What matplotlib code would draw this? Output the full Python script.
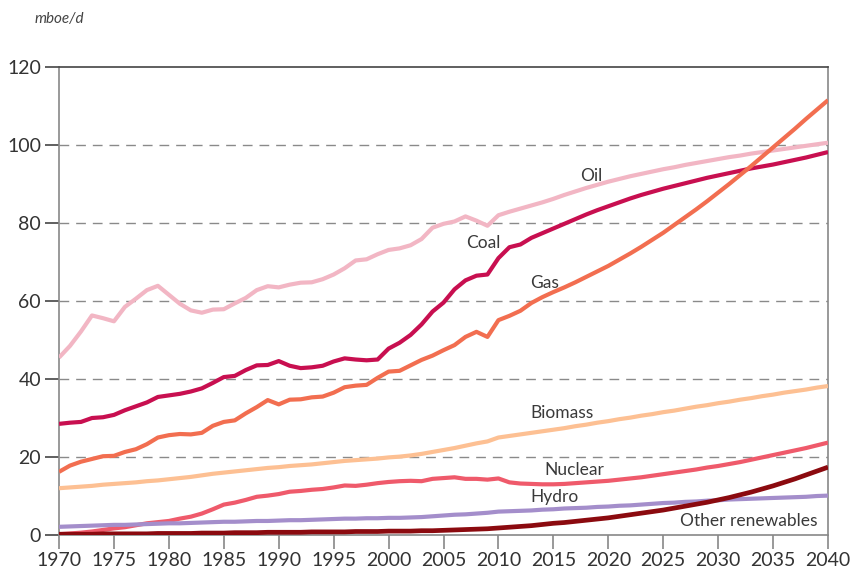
import matplotlib
matplotlib.use("Agg")
import matplotlib.pyplot as plt
import numpy as np

plt.rcParams['font.family'] = ['Lato', 'DejaVu Sans']

years = list(range(1970, 2041))

oil = [45.5, 48.5, 52.2, 56.3, 55.6, 54.8, 58.5, 60.6, 62.8, 63.9,
       61.6, 59.3, 57.6, 57.0, 57.8, 57.9, 59.4, 60.8, 62.8, 63.8,
       63.5, 64.2, 64.7, 64.8, 65.6, 66.8, 68.4, 70.4, 70.7, 72.0,
       73.1, 73.5, 74.3, 75.9, 78.8, 79.8, 80.4, 81.7, 80.6, 79.3,
       82.0, 82.9, 83.7, 84.5, 85.3, 86.2, 87.2, 88.1, 89.0, 89.8,
       90.6, 91.3, 92.0, 92.6, 93.2, 93.8, 94.3, 94.9, 95.4, 95.9,
       96.4, 96.9, 97.3, 97.8, 98.2, 98.6, 99.0, 99.4, 99.8, 100.2,
       100.6]

coal = [28.5, 28.8, 29.0, 30.0, 30.2, 30.8, 32.0, 33.0, 34.0, 35.4,
        35.8, 36.2, 36.8, 37.6, 39.0, 40.5, 40.8, 42.3, 43.5, 43.6,
        44.6, 43.4, 42.8, 43.0, 43.4, 44.5, 45.3, 45.0, 44.8, 45.0,
        47.8, 49.3, 51.3, 54.0, 57.3, 59.6, 63.0, 65.3, 66.5, 66.8,
        71.0, 73.8, 74.5, 76.2, 77.4, 78.6, 79.8, 81.0, 82.2, 83.3,
        84.3, 85.3, 86.3, 87.2, 88.0, 88.8, 89.5, 90.2, 90.9, 91.6,
        92.2, 92.8, 93.4, 94.0, 94.5, 95.0, 95.6, 96.2, 96.8, 97.5,
        98.2]

gas = [16.2, 17.8, 18.8, 19.5, 20.2, 20.3, 21.3, 22.0, 23.3, 25.0,
       25.6, 25.9, 25.8, 26.2, 28.0, 29.0, 29.4, 31.2, 32.8, 34.6,
       33.5, 34.7, 34.8, 35.3, 35.5, 36.5, 37.9, 38.3, 38.5, 40.3,
       41.9, 42.1, 43.5, 44.9, 46.0, 47.4, 48.7, 50.8, 52.1, 50.8,
       55.1, 56.2, 57.5, 59.5, 61.0, 62.3, 63.5, 64.8, 66.2, 67.6,
       69.0, 70.6, 72.2, 73.9, 75.7, 77.5, 79.5, 81.5, 83.5, 85.6,
       87.8, 90.0, 92.3, 94.6, 97.0, 99.4, 101.8, 104.2, 106.7, 109.1,
       111.5]

biomass = [12.0, 12.2, 12.4, 12.6, 12.9, 13.1, 13.3, 13.5, 13.8, 14.0,
           14.3, 14.6, 14.9, 15.3, 15.7, 16.0, 16.3, 16.6, 16.9, 17.2,
           17.4, 17.7, 17.9, 18.1, 18.4, 18.7, 19.0, 19.2, 19.4, 19.6,
           19.9, 20.1, 20.4, 20.8, 21.3, 21.8, 22.3, 22.9, 23.5, 24.0,
           25.0, 25.4, 25.8, 26.2, 26.6, 27.0, 27.4, 27.9, 28.3, 28.8,
           29.2, 29.7, 30.1, 30.6, 31.0, 31.5, 31.9, 32.4, 32.9, 33.3,
           33.8, 34.2, 34.7, 35.1, 35.6, 36.0, 36.5, 36.9, 37.3, 37.8,
           38.2]

nuclear = [0.2, 0.4, 0.6, 0.9, 1.3, 1.7, 2.0, 2.5, 3.0, 3.3,
           3.6, 4.2, 4.7, 5.5, 6.6, 7.8, 8.3, 9.0, 9.8, 10.1,
           10.5, 11.1, 11.3, 11.6, 11.8, 12.2, 12.7, 12.6, 12.9, 13.3,
           13.6, 13.8, 13.9, 13.8, 14.4, 14.6, 14.8, 14.4, 14.4, 14.2,
           14.5, 13.5, 13.2, 13.1, 13.0, 13.0, 13.1, 13.3, 13.5, 13.7,
           13.9, 14.2, 14.5, 14.8, 15.2, 15.6, 16.0, 16.4, 16.8, 17.3,
           17.7, 18.2, 18.7, 19.3, 19.9, 20.5, 21.1, 21.7, 22.3, 23.0,
           23.7]

hydro = [2.1, 2.2, 2.3, 2.4, 2.5, 2.6, 2.6, 2.7, 2.8, 2.9,
         3.0, 3.0, 3.1, 3.2, 3.3, 3.4, 3.4, 3.5, 3.6, 3.6,
         3.7, 3.8, 3.8, 3.9, 4.0, 4.1, 4.2, 4.2, 4.3, 4.3,
         4.4, 4.4, 4.5, 4.6, 4.8, 5.0, 5.2, 5.3, 5.5, 5.7,
         6.0, 6.1, 6.2, 6.3, 6.5, 6.6, 6.8, 6.9, 7.0, 7.2,
         7.3, 7.5, 7.6, 7.8, 8.0, 8.2, 8.3, 8.5, 8.6, 8.8,
         8.9, 9.1, 9.2, 9.3, 9.4, 9.5, 9.6, 9.7, 9.8, 10.0,
         10.1]

other_renewables = [0.2, 0.2, 0.2, 0.2, 0.3, 0.3, 0.3, 0.3, 0.3, 0.4,
                    0.4, 0.4, 0.4, 0.5, 0.5, 0.5, 0.6, 0.6, 0.6, 0.7,
                    0.7, 0.7, 0.7, 0.8, 0.8, 0.8, 0.8, 0.9, 0.9, 0.9,
                    1.0, 1.0, 1.0, 1.1, 1.1, 1.2, 1.3, 1.4, 1.5, 1.6,
                    1.8, 2.0, 2.2, 2.4, 2.7, 3.0, 3.2, 3.5, 3.8, 4.1,
                    4.4, 4.8, 5.2, 5.6, 6.0, 6.4, 6.9, 7.4, 7.9, 8.4,
                    9.0, 9.6, 10.3, 11.0, 11.8, 12.6, 13.5, 14.4, 15.4, 16.4,
                    17.4]

x_ticks = list(range(1970, 2041, 5))
y_ticks = [0, 20, 40, 60, 80, 100, 120]

series = [
    ("Oil", oil, "#F2B6C4", 3.0, (2017.4, 92.0)),
    ("Coal", coal, "#C80F50", 3.0, (2007.1, 74.9)),
    ("Gas", gas, "#F26E50", 3.0, (2012.9, 64.6)),
    ("Biomass", biomass, "#FDC093", 3.0, (2012.9, 31.3)),
    ("Nuclear", nuclear, "#EF5A6B", 3.0, (2014.2, 16.7)),
    ("Hydro", hydro, "#A48ECB", 3.0, (2012.9, 9.7)),
    ("Other renewables", other_renewables, "#8B0A0F", 3.4, (2026.5, 3.6)),
]

fig = plt.figure(figsize=(8.53, 5.73), dpi=100)
ax = fig.add_axes([0.0692, 0.0663, 0.9015, 0.8167])

for y in y_ticks[1:-1]:
    ax.axhline(y, color="#8a8a8a", lw=1.0, ls=(0, (7, 5)), zorder=1)

for name, vals, col, lw, _ in series:
    ax.plot(years, vals, color=col, lw=lw, solid_capstyle="butt", zorder=3)

for name, vals, col, lw, (tx, ty) in series:
    ax.text(tx, ty, name, fontsize=12.5, color="#3a3a3a", ha="left", va="center", zorder=4)

ax.set_xlim(1970, 2040)
ax.set_ylim(0, 120)
ax.set_xticks(x_ticks)
ax.set_yticks(y_ticks)
ax.tick_params(axis="both", labelsize=14, colors="#333333", length=10, width=1.2, direction="out")
ax.tick_params(axis="x", color="#888888", pad=2)
ax.tick_params(axis="y", color="#444444", pad=3)

for s in ["left", "right", "bottom"]:
    ax.spines[s].set_color("#888888")
    ax.spines[s].set_linewidth(1.2)
ax.spines["top"].set_color("#444444")
ax.spines["top"].set_linewidth(1.2)

fig.text(0.041, 0.966, "mboe/d", fontsize=11, style="italic", color="#444444", ha="left", va="center")

fig.savefig("out.png", dpi=100)
